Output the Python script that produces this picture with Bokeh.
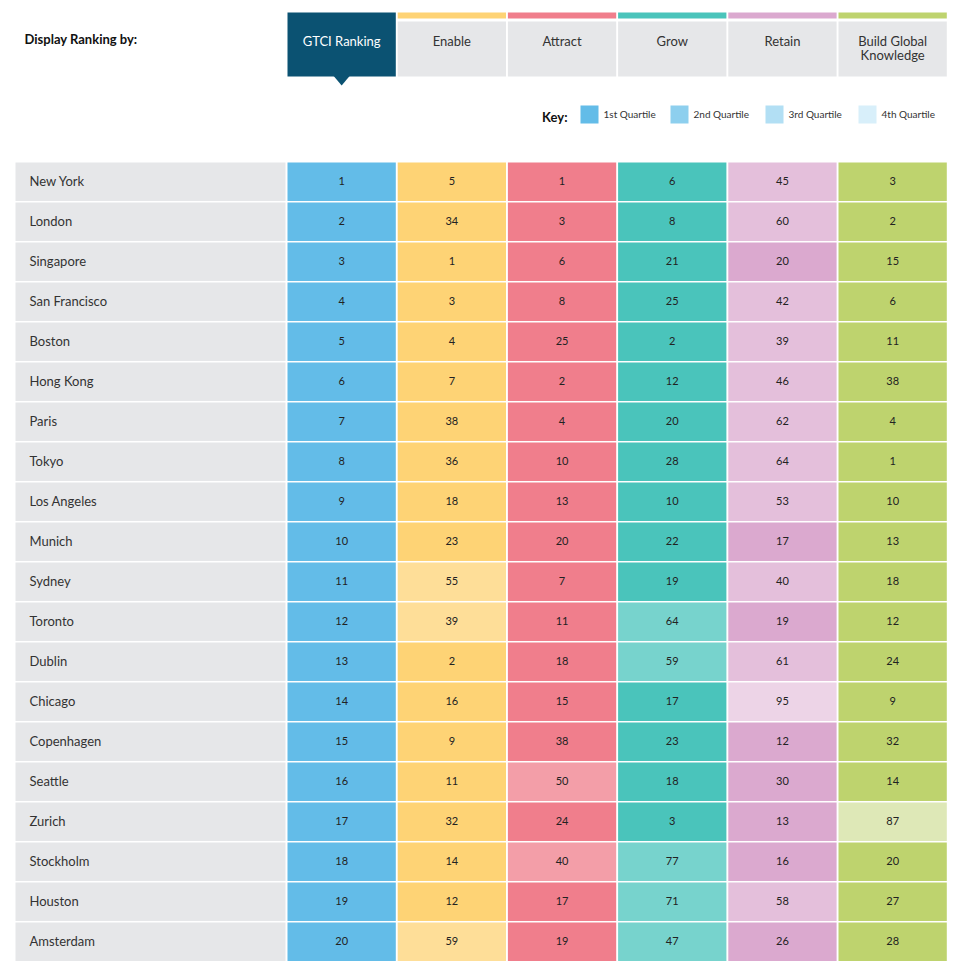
from bokeh.plotting import figure
from bokeh.models import Range1d, ColumnDataSource
from bokeh.core.properties import value
from bokeh.embed import file_html
from bokeh.resources import INLINE

# ---------------- data ----------------
cities = ["New York", "London", "Singapore", "San Francisco", "Boston", "Hong Kong",
          "Paris", "Tokyo", "Los Angeles", "Munich", "Sydney", "Toronto", "Dublin",
          "Chicago", "Copenhagen", "Seattle", "Zurich", "Stockholm", "Houston", "Amsterdam"]
gtci = [1, 2, 3, 4, 5, 6, 7, 8, 9, 10, 11, 12, 13, 14, 15, 16, 17, 18, 19, 20]
enable = [5, 34, 1, 3, 4, 7, 38, 36, 18, 23, 55, 39, 2, 16, 9, 11, 32, 14, 12, 59]
attract = [1, 3, 6, 8, 25, 2, 4, 10, 13, 20, 7, 11, 18, 15, 38, 50, 24, 40, 17, 19]
grow = [6, 8, 21, 25, 2, 12, 20, 28, 10, 22, 19, 64, 59, 17, 23, 18, 3, 77, 71, 47]
retain = [45, 60, 20, 42, 39, 46, 62, 64, 53, 17, 40, 19, 61, 95, 12, 30, 13, 16, 58, 26]
build = [3, 2, 15, 6, 11, 38, 4, 1, 10, 13, 18, 12, 24, 9, 32, 14, 87, 20, 27, 28]

columns = ["GTCI Ranking", "Enable", "Attract", "Grow", "Retain", "Build Global\nKnowledge"]
series = [gtci, enable, attract, grow, retain, build]
quartile_labels = ["1st Quartile", "2nd Quartile", "3rd Quartile", "4th Quartile"]
quartile_upper = [38, 77, 116]  # rank thresholds (155 cities)

palettes = [
    ["#63BCE8", "#8DCFEE", "#B2DFF4", "#D8EFFA"],
    ["#FED375", "#FEDE98", "#FEE9BA", "#FFF4DC"],
    ["#F07E8C", "#F39EA8", "#F7BEC5", "#FBDEE2"],
    ["#4AC4BB", "#77D3CD", "#A4E1DD", "#D2F0EE"],
    ["#DBA9CF", "#E4BFDB", "#EDD4E7", "#F6EAF3"],
    ["#BED36E", "#CEDD93", "#DEE8B7", "#EEF4DB"],
]

FONT = value("Lato")
TXT = "#333333"
GRAY = "#E6E7E9"
SEL = "#0B5272"

W, H = 960, 961
p = figure(width=W, height=H, output_backend="svg", toolbar_location=None,
           x_range=Range1d(0, W), y_range=Range1d(H, 0),
           min_border=0, outline_line_color=None, background_fill_color="white")
p.axis.visible = False
p.grid.visible = False


def quartile(r):
    for i, t in enumerate(quartile_upper):
        if r <= t:
            return i
    return 3


col_left0, col_step, col_w = 287, 110.2, 108.3
row_top0, row_step, row_h = 162, 40, 38.5

# ---- header ----
p.text(x=[24], y=[38], text=["Display Ranking by:"], text_font=FONT, text_font_style="bold",
       text_font_size="13px", text_color="#111111", text_baseline="middle")

for j, name in enumerate(columns):
    l = col_left0 + j * col_step
    r = l + col_w
    cx = (l + r) / 2
    lines = name.split("\n")
    if j == 0:
        p.quad(left=[l], right=[r], top=[12], bottom=[76], fill_color=SEL, line_color=None)
        p.patch(x=[cx - 8, cx + 8, cx], y=[75.5, 75.5, 85], fill_color=SEL, line_color=None)
        tc = "white"
    else:
        p.quad(left=[l], right=[r], top=[12], bottom=[18], fill_color=palettes[j][0], line_color=None)
        p.quad(left=[l], right=[r], top=[21], bottom=[76], fill_color=GRAY, line_color=None)
        tc = TXT
    ys = [40] if len(lines) == 1 else [40, 54.5]
    p.text(x=[cx] * len(lines), y=ys, text=lines, text_font=FONT, text_font_size="13px",
           text_color=tc, text_align="center", text_baseline="middle")

# ---- key ----
p.text(x=[567], y=[116], text=["Key:"], text_font=FONT, text_font_style="bold",
       text_font_size="13px", text_color="#111111", text_align="right", text_baseline="middle")
key_x = [580, 670, 765, 858]
for k, lab in enumerate(quartile_labels):
    p.quad(left=[key_x[k]], right=[key_x[k] + 18], top=[105], bottom=[123],
           fill_color=palettes[0][k], line_color=None)
    p.text(x=[key_x[k] + 23], y=[113], text=[lab], text_font=FONT, text_font_size="10px",
           text_color=TXT, text_baseline="middle")

# ---- table ----
n = len(cities)
tops = [row_top0 + i * row_step for i in range(n)]
bots = [t + row_h for t in tops]
mids = [t + row_h / 2 - 1 for t in tops]
p.quad(left=[15] * n, right=[285] * n, top=tops, bottom=bots, fill_color=GRAY, line_color=None)
p.text(x=[29] * n, y=mids, text=cities, text_font=FONT, text_font_size="13px",
       text_color=TXT, text_baseline="middle")

for j, vals in enumerate(series):
    l = col_left0 + j * col_step
    r = l + col_w
    src = ColumnDataSource(dict(
        left=[l] * n, right=[r] * n, top=tops, bottom=bots,
        color=[palettes[j][quartile(v)] for v in vals],
        x=[(l + r) / 2] * n, y=mids, txt=[str(v) for v in vals]))
    p.quad(left="left", right="right", top="top", bottom="bottom", fill_color="color",
           line_color=None, source=src)
    p.text(x="x", y="y", text="txt", text_font=FONT, text_font_size="11px",
           text_color="#222222", text_align="center", text_baseline="middle", source=src)

open("out.html", "w").write(file_html(p, INLINE))
